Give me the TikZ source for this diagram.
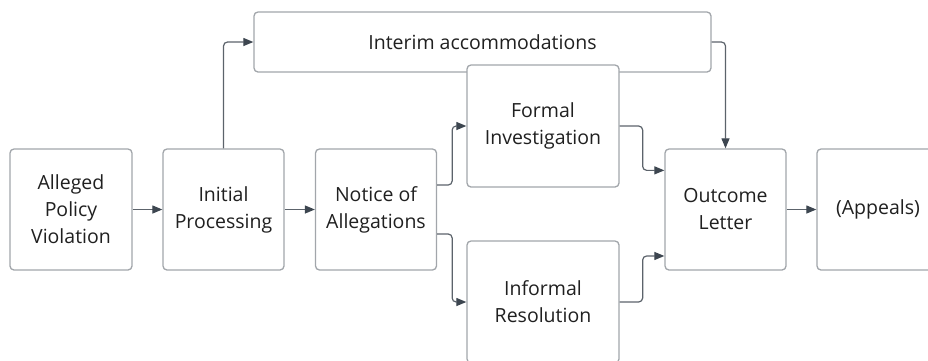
\documentclass[tikz,border=0pt]{standalone}
\usepackage{fontspec}
\setmainfont{Open Sans}
\usetikzlibrary{arrows.meta,calc}
\definecolor{boxline}{HTML}{A2A6AB}
\definecolor{conn}{HTML}{5C636B}
\definecolor{tip}{HTML}{3D4650}
\definecolor{txt}{HTML}{202020}
\tikzset{
  stepbox/.style={draw=boxline, line width=1.3pt, rounded corners=4pt, fill=white,
    align=center, text=txt, font=\fontsize{19.5}{27}\selectfont, inner sep=0pt},
  conn/.style={draw=conn, line width=1.2pt, rounded corners=4pt,
    -{Triangle[length=10pt,width=8pt,fill=tip,color=tip]}},
}
\begin{document}
\begin{tikzpicture}[x=1pt,y=-1pt]
\useasboundingbox (0,0) rectangle (928,360);
\clip (0,0) rectangle (928,360);
\node[stepbox, minimum width=457pt, minimum height=60pt] (im) at (482.5,42) {Interim accommodations};
\node[stepbox, minimum width=122pt, minimum height=121pt] (av) at (71,209.5) {Alleged\\Policy\\Violation};
\node[stepbox, minimum width=121pt, minimum height=121pt] (ip) at (223.5,209.5) {Initial\\Processing};
\node[stepbox, minimum width=121pt, minimum height=121pt] (na) at (376,209.5) {Notice of\\Allegations};
\node[stepbox, minimum width=152pt, minimum height=122pt] (fi) at (543,126) {Formal\\Investigation};
\node[stepbox, minimum width=152pt, minimum height=122pt] (ir) at (543,302) {Informal\\Resolution};
\node[stepbox, minimum width=121pt, minimum height=121pt] (ol) at (725.5,209.5) {Outcome\\Letter};
\node[stepbox, minimum width=122pt, minimum height=121pt] (ap) at (878,209.5) {(Appeals)};
\coordinate (naup) at ($(na.north east)!0.3!(na.south east)$);
\coordinate (nadn) at ($(na.north east)!0.7!(na.south east)$);
\coordinate (olup) at ($(ol.north west)!0.18!(ol.south west)$);
\coordinate (oldn) at ($(ol.north west)!0.88!(ol.south west)$);
\draw[conn] (av.east) -- (ip.west);
\draw[conn] (ip.east) -- (na.west);
\draw[conn] (ip.north) |- (im.west);
\draw[conn] (naup) -- ++(15,0) |- (fi.west);
\draw[conn] (nadn) -- ++(15,0) |- (ir.west);
\draw[conn] (fi.east) -- ++(23,0) |- (olup);
\draw[conn] (ir.east) -- ++(23,0) |- (oldn);
\draw[conn] (im.east) -| (ol.north);
\draw[conn] (ol.east) -- (ap.west);
\end{tikzpicture}
\end{document}
